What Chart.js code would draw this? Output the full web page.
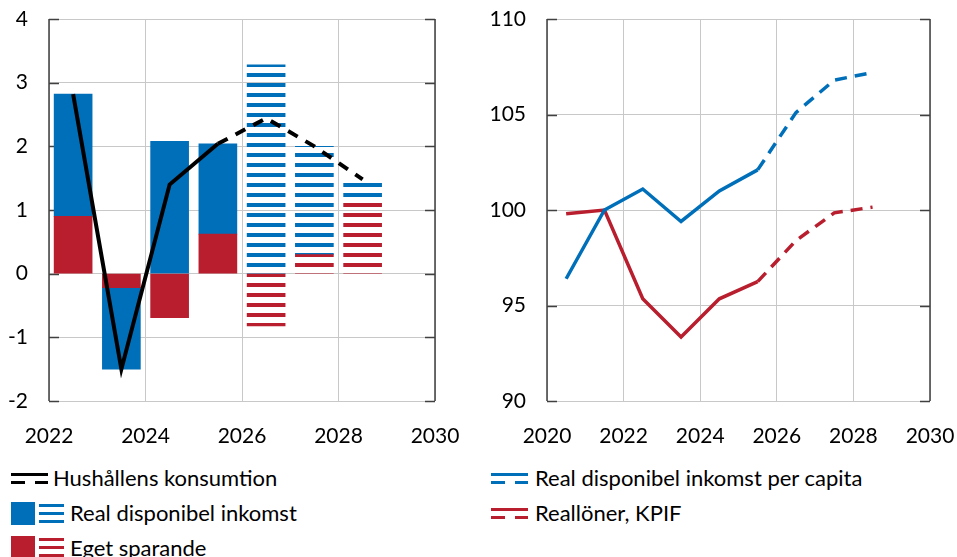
<!DOCTYPE html>
<html>
<head>
<meta charset="utf-8">
<script src="https://cdn.jsdelivr.net/npm/chart.js@4/dist/chart.umd.min.js"></script>
<style>
  body { margin: 0; background: #fff; width: 957px; height: 557px; overflow: hidden; position: relative; font-family: Lato, "Liberation Sans", sans-serif; }
  canvas { position: absolute; top: 0; }
  #left { left: 0; }
  #right { left: 470px; }
  .leg { position: absolute; font-size: 22px; line-height: 24px; color: #000; white-space: nowrap; }
  .ico { position: absolute; }
</style>
</head>
<body>
<canvas id="left" width="470" height="460"></canvas>
<canvas id="right" width="487" height="460"></canvas>
<div id="legend"></div>
<script>
const blue = "#006fb9";
const red = "#b81e2d";
const frameCol = "#404040";
const gridCol = "#c8c8c8";

// left chart: contributions to household consumption
const barYears = [2022, 2023, 2024, 2025, 2026, 2027, 2028];
const income = [1.92, -1.28, 2.08, 1.42, 3.28, 1.7, 0.36];
const saving = [0.9, -0.22, -0.69, 0.62, -0.82, 0.3, 1.12];
const consumption = [2.82, -1.5, 1.4, 2.04, 2.44, 2.0, 1.48];
const firstForecast = 2026;

// right chart: index
const lineYears = [2020, 2021, 2022, 2023, 2024, 2025, 2026, 2027, 2028];
const incomePerCapita = [96.4, 100, 101.1, 99.4, 101.0, 102.1, 105.1, 106.8, 107.2];
const realWages = [99.8, 100, 95.35, 93.35, 95.35, 96.25, 98.4, 99.85, 100.15];

const makeStripes = (color) => {
    const c = document.createElement("canvas");
    c.width = 8; c.height = 10;
    const g = c.getContext("2d");
    g.fillStyle = color;
    g.fillRect(0, 3, 8, 4);
    return g.createPattern(c, "repeat");
};

// annual figures are drawn at mid-year
const pts = (years, vals, keep) => years.map((y, i) => ({x: y + 0.5, y: vals[i]})).filter((p, i) => keep(years[i]));

const frame = {
    id: "frame",
    beforeDatasetsDraw(chart) {
        const {ctx, chartArea: a, scales} = chart;
        ctx.save();
        ctx.strokeStyle = frameCol;
        ctx.lineWidth = 1.5;
        scales.y.ticks.forEach(t => {
            const py = Math.round(scales.y.getPixelForValue(t.value)) + 0.5;
            ctx.beginPath();
            ctx.moveTo(a.left, py); ctx.lineTo(a.left + 10, py);
            ctx.moveTo(a.right - 10, py); ctx.lineTo(a.right, py);
            ctx.stroke();
        });
        ctx.beginPath();
        ctx.moveTo(a.left, a.top); ctx.lineTo(a.left, a.bottom);
        ctx.moveTo(a.right, a.top); ctx.lineTo(a.right, a.bottom);
        ctx.stroke();
        ctx.restore();
    }
};

const tickFont = {family: "Lato, 'Liberation Sans', sans-serif", size: 21};

const scaleOpts = (xmin, xmax, ymin, ymax, ystep, yw) => ({
    x: {
        type: "linear", min: xmin, max: xmax, offset: false,
        grid: {color: gridCol, drawTicks: false, offset: false},
        border: {display: false},
        ticks: {stepSize: 2, font: tickFont, color: "#000", padding: 23, maxRotation: 0,
            callback: v => String(v)},
        afterFit: s => { s.height = 59; s.paddingLeft = 0; s.paddingRight = 0; }
    },
    y: {
        min: ymin, max: ymax, stacked: true,
        grid: {color: gridCol, drawTicks: false},
        border: {display: false},
        ticks: {stepSize: ystep, font: tickFont, color: "#000", padding: 21},
        afterFit: s => { s.width = yw; s.paddingTop = 0; s.paddingBottom = 0; }
    }
});

new Chart(document.getElementById("left"), {
    type: "bar",
    data: {
        datasets: [
            {type: "line", stack: "l1", data: pts(barYears, consumption, y => y <= 2025),
                borderColor: "#000", borderWidth: 4, pointRadius: 0},
            {type: "line", stack: "l2", data: pts(barYears, consumption, y => y >= 2025),
                borderColor: "#000", borderWidth: 4, borderDash: [11, 9], pointRadius: 0},
            {data: pts(barYears, saving, y => y < firstForecast), backgroundColor: red},
            {data: pts(barYears, income, y => y < firstForecast), backgroundColor: blue},
            {data: pts(barYears, saving, y => y >= firstForecast), backgroundColor: makeStripes(red)},
            {data: pts(barYears, income, y => y >= firstForecast), backgroundColor: makeStripes(blue)}
        ].map(d => d.type ? d : Object.assign(d, {stack: "bars", grouped: false, barThickness: 38, borderWidth: 0}))
    },
    options: {
        responsive: false, animation: false,
        layout: {padding: {top: 19, right: 35, left: 0, bottom: 0}},
        plugins: {legend: {display: false}, tooltip: {enabled: false}},
        scales: scaleOpts(2022, 2030, -2, 4, 1, 49)
    },
    plugins: [frame]
});

const rightScales = scaleOpts(2020, 2030, 90, 110, 5, 77);
rightScales.y.stacked = false;

new Chart(document.getElementById("right"), {
    type: "line",
    data: {
        datasets: [
            {data: pts(lineYears, incomePerCapita, y => y <= 2025), borderColor: blue, borderWidth: 3.5, pointRadius: 0},
            {data: pts(lineYears, incomePerCapita, y => y >= 2025), borderColor: blue, borderWidth: 3.5, borderDash: [12, 8], pointRadius: 0},
            {data: pts(lineYears, realWages, y => y <= 2025), borderColor: red, borderWidth: 3.5, pointRadius: 0},
            {data: pts(lineYears, realWages, y => y >= 2025), borderColor: red, borderWidth: 3.5, borderDash: [12, 8], pointRadius: 0}
        ]
    },
    options: {
        responsive: false, animation: false,
        layout: {padding: {top: 19, right: 27, left: 0, bottom: 0}},
        plugins: {legend: {display: false}, tooltip: {enabled: false}},
        scales: rightScales
    },
    plugins: [frame]
});

// legend
const legend = document.getElementById("legend");
const box = (x, y, w, h, bg) => {
    const d = document.createElement("div");
    d.className = "ico";
    Object.assign(d.style, {left: x + "px", top: y + "px", width: w + "px", height: h + "px", background: bg});
    legend.appendChild(d);
};
const label = (x, cy, text) => {
    const d = document.createElement("div");
    d.className = "leg";
    d.textContent = text;
    d.style.left = x + "px";
    d.style.top = (cy - 12) + "px";
    legend.appendChild(d);
};
const lineIcon = (x, y, color) => {
    box(x, y, 37, 3, color);
    box(x, y + 8, 14, 3, color);
    box(x + 24, y + 8, 13, 3, color);
};
const stripes = c => `repeating-linear-gradient(to bottom, #fff 0 2px, ${c} 2px 5px, #fff 5px 8px)`;

lineIcon(11, 473, "#000");
label(53, 478, "Hushållens konsumtion");
box(11, 502, 24, 23, blue);
box(39, 502, 25, 23, stripes(blue));
label(70, 513, "Real disponibel inkomst");
box(11, 536, 24, 23, red);
box(39, 536, 25, 23, stripes(red));
label(70, 548, "Eget sparande");

lineIcon(491, 473, blue);
label(535, 478, "Real disponibel inkomst per capita");
lineIcon(491, 508, red);
label(535, 513, "Reallöner, KPIF");
</script>
</body>
</html>
